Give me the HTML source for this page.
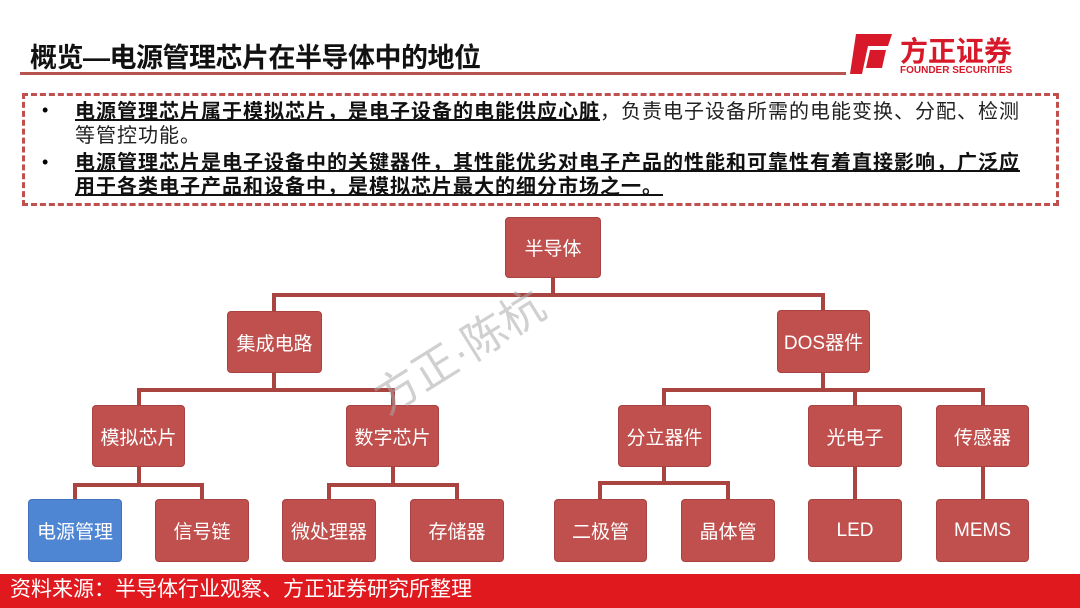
<!DOCTYPE html>
<html><head><meta charset="utf-8"><style>
*{margin:0;padding:0;box-sizing:border-box}
body{width:1080px;height:608px;background:#fff;position:relative;overflow:hidden;font-family:"Liberation Sans","Noto Sans CJK SC",sans-serif}
.t{position:absolute;left:30px;top:36px;font-size:27px;font-weight:bold;color:#111;letter-spacing:-0.5px}
.ul{position:absolute;left:20px;top:72px;width:826px;height:3px;background:#b85450}
.box{position:absolute;left:22px;top:93px;width:1037px;height:113px;border:3px dashed #c0504d}
.p{position:absolute;left:75px;font-size:20px;letter-spacing:1px;color:#222;line-height:24px;white-space:nowrap}
.p b{text-decoration:underline;font-weight:bold;color:#111}
.bl{position:absolute;left:42px;font-size:18px}
.n{position:absolute;background:#c0504d;border:1px solid #a84340;border-radius:4px;color:#fff;font-size:19px;display:flex;align-items:center;justify-content:center}
.l{position:absolute;background:#a94440}
.foot{position:absolute;left:0;top:574px;width:1080px;height:34px;background:#e0191f;color:#fff;font-size:21px;padding-left:10px;line-height:32px}
.wm{position:absolute;left:360px;top:372px;font-size:44px;color:rgba(170,170,170,0.55);transform:rotate(-32deg);transform-origin:left top;white-space:nowrap}
</style></head><body>
<div class="t">概览—电源管理芯片在半导体中的地位</div>
<div class="ul"></div>
<svg style="position:absolute;left:848px;top:32px" width="48" height="44"><polygon points="8,2 44,2 40,14 20,14 14,42 2,42" fill="#d7192a"/><polygon points="22,18 38,18 34,36 18,36" fill="#d7192a"/></svg>
<div style="position:absolute;left:900px;top:30px;font-size:28px;font-weight:bold;color:#d7192a">方正证券</div>
<div style="position:absolute;left:900px;top:65px;font-size:10px;font-weight:bold;color:#d7192a">FOUNDER SECURITIES</div>
<div class="box"></div>
<div class="bl" style="top:100px">•</div>
<div class="p" style="top:100px"><b>电源管理芯片属于模拟芯片，是电子设备的电能供应心脏</b>，负责电子设备所需的电能变换、分配、检测<br>等管控功能。</div>
<div class="bl" style="top:152px">•</div>
<div class="p" style="top:151px"><b>电源管理芯片是电子设备中的关键器件，其性能优劣对电子产品的性能和可靠性有着直接影响，广泛应<br>用于各类电子产品和设备中，是模拟芯片最大的细分市场之一。</b></div>
<!-- connectors -->
<div class="l" style="left:551px;top:278px;width:4px;height:19px"></div>
<div class="l" style="left:272px;top:293px;width:553px;height:4px"></div>
<div class="l" style="left:272px;top:293px;width:4px;height:18px"></div>
<div class="l" style="left:821px;top:293px;width:4px;height:18px"></div>
<div class="l" style="left:272px;top:372px;width:4px;height:20px"></div>
<div class="l" style="left:137px;top:388px;width:258px;height:4px"></div>
<div class="l" style="left:137px;top:388px;width:4px;height:17px"></div>
<div class="l" style="left:391px;top:388px;width:4px;height:17px"></div>
<div class="l" style="left:821px;top:372px;width:4px;height:20px"></div>
<div class="l" style="left:662px;top:388px;width:323px;height:4px"></div>
<div class="l" style="left:662px;top:388px;width:4px;height:17px"></div>
<div class="l" style="left:853px;top:388px;width:4px;height:17px"></div>
<div class="l" style="left:981px;top:388px;width:4px;height:17px"></div>
<div class="l" style="left:137px;top:467px;width:4px;height:18px"></div>
<div class="l" style="left:73px;top:483px;width:131px;height:4px"></div>
<div class="l" style="left:73px;top:483px;width:4px;height:16px"></div>
<div class="l" style="left:200px;top:483px;width:4px;height:16px"></div>
<div class="l" style="left:391px;top:467px;width:4px;height:18px"></div>
<div class="l" style="left:327px;top:483px;width:132px;height:4px"></div>
<div class="l" style="left:327px;top:483px;width:4px;height:16px"></div>
<div class="l" style="left:455px;top:483px;width:4px;height:16px"></div>
<div class="l" style="left:662px;top:467px;width:4px;height:18px"></div>
<div class="l" style="left:598px;top:481px;width:132px;height:4px"></div>
<div class="l" style="left:598px;top:481px;width:4px;height:18px"></div>
<div class="l" style="left:726px;top:481px;width:4px;height:18px"></div>
<div class="l" style="left:853px;top:467px;width:4px;height:32px"></div>
<div class="l" style="left:981px;top:467px;width:4px;height:32px"></div>
<!-- nodes -->
<div class="n" style="left:505px;top:217px;width:96px;height:61px">半导体</div>
<div class="n" style="left:227px;top:311px;width:95px;height:62px">集成电路</div>
<div class="n" style="left:777px;top:310px;width:93px;height:63px">DOS器件</div>
<div class="n" style="left:92px;top:405px;width:93px;height:62px">模拟芯片</div>
<div class="n" style="left:346px;top:405px;width:93px;height:62px">数字芯片</div>
<div class="n" style="left:618px;top:405px;width:93px;height:62px">分立器件</div>
<div class="n" style="left:808px;top:405px;width:94px;height:62px">光电子</div>
<div class="n" style="left:936px;top:405px;width:93px;height:62px">传感器</div>
<div class="n" style="left:28px;top:499px;width:94px;height:63px;background:#4f86d4;border-color:#3e72bd">电源管理</div>
<div class="n" style="left:155px;top:499px;width:94px;height:63px">信号链</div>
<div class="n" style="left:282px;top:499px;width:94px;height:63px">微处理器</div>
<div class="n" style="left:410px;top:499px;width:94px;height:63px">存储器</div>
<div class="n" style="left:554px;top:499px;width:93px;height:63px">二极管</div>
<div class="n" style="left:681px;top:499px;width:94px;height:63px">晶体管</div>
<div class="n" style="left:808px;top:499px;width:94px;height:63px">LED</div>
<div class="n" style="left:936px;top:499px;width:93px;height:63px">MEMS</div>
<div class="wm">方正·陈杭</div>
<div class="foot">资料来源：半导体行业观察、方正证券研究所整理</div>
</body></html>
